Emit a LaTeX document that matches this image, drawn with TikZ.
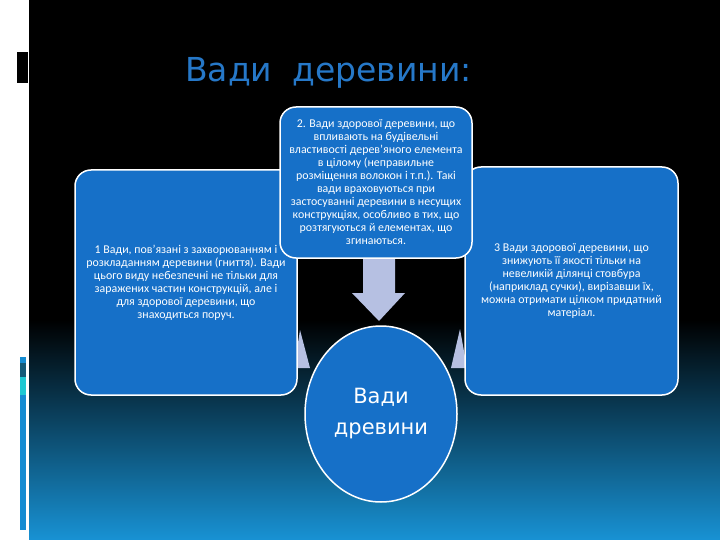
\documentclass[tikz,border=0pt]{standalone}
\usepackage{fontspec}
\setmainfont{Carlito}
\newfontfamily\headfont{DejaVu Sans}
\usetikzlibrary{shapes.geometric}

\definecolor{boxblue}{RGB}{22,112,200}
\definecolor{headblue}{RGB}{38,120,200}
\definecolor{arrowfill}{RGB}{182,192,226}
\definecolor{bgblue}{RGB}{24,146,212}
\definecolor{stripblue}{RGB}{20,140,210}
\definecolor{stripteal}{RGB}{20,90,120}
\definecolor{stripcyan}{RGB}{30,200,210}

\tikzset{
	defect/.style={draw=white,line width=1.5pt,fill=boxblue,rounded corners=16pt,
		text=white,align=center,inner sep=3pt,font=\fontsize{11.9}{13}\selectfont},
	core/.style={ellipse,draw=white,line width=1.5pt,fill=boxblue,text=white,
		align=center,inner sep=0pt,font=\headfont\fontsize{21}{31}\selectfont}
}

\begin{document}
\begin{tikzpicture}[x=1pt,y=-1pt]
	
	\useasboundingbox (0,0) rectangle (720,540);
	\fill[white] (0,0) rectangle (720,540);
	\fill[black] (29,0) rectangle (720,321);
	\shade[top color=black,bottom color=bgblue] (29,320) rectangle (720,540);
	
	\fill[black] (17,52) rectangle (28,83);
	\fill[stripblue] (20,357) rectangle (26,530);
	\fill[stripteal] (20,363) rectangle (26,377);
	\fill[stripcyan] (20,377) rectangle (26,395);
	
	\node[anchor=base west,text=headblue,font=\headfont\fontsize{33}{36}\selectfont,inner sep=0pt] (title) at (185,82) {Вади\hspace{20pt}деревини:};
	
	\fill[arrowfill] (294,368) -- (300,330) -- (310,368) -- cycle;
	\fill[arrowfill] (467,368) -- (460,329) -- (451,368) -- cycle;
	\fill[arrowfill] (363,250) -- (395,250) -- (395,293) -- (405,293) -- (379,321) -- (352,293) -- (363,293) -- cycle;
	
	\node[defect,minimum width=222,minimum height=225] (rot) at (186,282.5) {1 Вади, пов'язані з захворюванням і\\розкладанням деревини (гниття). Вади\\цього виду небезпечні не тільки для\\заражених частин конструкцій, але і\\для здорової деревини, що\\знаходиться поруч.};
	
	\node[defect,minimum width=213,minimum height=228] (knot) at (571.5,281) {3 Вади здорової деревини, що\\знижують її якості тільки на\\невеликій ділянці стовбура\\(наприклад сучки), вирізавши їх,\\можна отримати цілком придатний\\матеріал.};
	
	\node[defect,minimum width=192,minimum height=151] (fibre) at (376,182.5) {2. Вади здорової  деревини, що\\впливають на будівельні\\властивості дерев'яного елемента\\в цілому (неправильне\\розміщення волокон і т.п.). Такі\\вади враховуються при\\застосуванні деревини в несущих\\конструкціях, особливо в тих, що\\розтягуються й елементах, що\\згинаються.};
	
	\node[core,minimum width=152,minimum height=176] (wood) at (381,414) {Вади\\древини};
	
\end{tikzpicture}
\end{document}
